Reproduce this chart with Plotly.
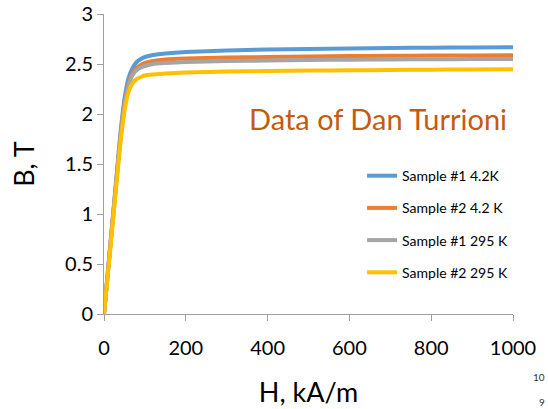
import plotly.graph_objects as go

# Magnetic field H (kA/m) and induction B (T) for each sample
H = [0, 10, 20, 30, 40, 50, 60, 70, 80, 90, 100, 120, 150, 200, 300, 400, 500, 600, 700, 800, 900, 1000]
b_s1_42k = [0, 0.45, 0.90, 1.35, 1.80, 2.15, 2.36, 2.46, 2.52, 2.55, 2.57, 2.59, 2.605, 2.62, 2.635, 2.645, 2.65, 2.655, 2.66, 2.663, 2.665, 2.667]
b_s2_42k = [0, 0.44, 0.88, 1.32, 1.76, 2.10, 2.30, 2.41, 2.46, 2.49, 2.51, 2.53, 2.545, 2.555, 2.565, 2.57, 2.575, 2.58, 2.582, 2.585, 2.586, 2.587]
b_s1_295k = [0, 0.44, 0.88, 1.32, 1.75, 2.08, 2.28, 2.39, 2.44, 2.465, 2.48, 2.50, 2.51, 2.52, 2.53, 2.535, 2.54, 2.543, 2.545, 2.548, 2.549, 2.55]
b_s2_295k = [0, 0.42, 0.85, 1.28, 1.70, 2.02, 2.22, 2.31, 2.35, 2.37, 2.385, 2.395, 2.405, 2.415, 2.425, 2.43, 2.434, 2.437, 2.44, 2.443, 2.445, 2.447]

names = ["Sample #1 4.2K", "Sample #2 4.2 K", "Sample #1 295 K", "Sample #2 295 K"]
colors = ["#5B9BD5", "#ED7D31", "#A5A5A5", "#FFC000"]
series = [b_s1_42k, b_s2_42k, b_s1_295k, b_s2_295k]

x_ticks = [0, 200, 400, 600, 800, 1000]
y_ticks = [0, 0.5, 1, 1.5, 2, 2.5, 3]
y_tick_text = ["0", "0.5", "1", "1.5", "2", "2.5", "3"]

FONT = "Lato, 'Open Sans', sans-serif"

fig = go.Figure()
for name, col, b in zip(names, colors, series):
    fig.add_trace(go.Scatter(
        x=H, y=b, mode="lines", name=name, legendgroup=name,
        line=dict(color=col, width=4, shape="spline", smoothing=0.6),
    ))

axis_common = dict(
    showgrid=False, zeroline=False, showline=True, linecolor="#A0A0A0", linewidth=1,
    ticks="outside", ticklen=6, tickcolor="#A0A0A0", tickwidth=1,
    tickfont=dict(family=FONT, size=20, color="#000000"),
)

fig.update_layout(
    width=548, height=409,
    margin=dict(l=104, r=35, t=14, b=95, autoexpand=False),
    paper_bgcolor="white", plot_bgcolor="white",
    font=dict(family=FONT, color="#000000"),
    xaxis=dict(range=[0, 1000], tickvals=x_ticks, ticklabelstandoff=10, **axis_common,
               title=dict(text="H, kA/m", font=dict(family=FONT, size=27), standoff=25)),
    yaxis=dict(range=[0, 3], tickvals=y_ticks, ticktext=y_tick_text, **axis_common,
               title=dict(text="B, T", font=dict(family=FONT, size=27), standoff=22)),
    legend=dict(
        x=0.631, y=0.513, xanchor="left", yanchor="top",
        font=dict(family=FONT, size=14, color="#000000"),
        tracegroupgap=11, bgcolor="rgba(0,0,0,0)", itemwidth=30,
    ),
    showlegend=True,
)

fig.add_annotation(
    text="Data of Dan Turrioni", xref="paper", yref="paper",
    x=(378 - 104) / 409, y=(314 - 118) / 300, xanchor="center", yanchor="middle",
    showarrow=False, font=dict(family=FONT, size=29, color="#C55A11"),
)
fig.add_annotation(text="10", xref="paper", yref="paper", x=(547 - 104) / 409, y=(314 - 377) / 300,
                   xanchor="right", yanchor="middle", showarrow=False,
                   font=dict(family=FONT, size=10, color="#333333"))
fig.add_annotation(text="9", xref="paper", yref="paper", x=(547 - 104) / 409, y=(314 - 402) / 300,
                   xanchor="right", yanchor="middle", showarrow=False,
                   font=dict(family=FONT, size=10, color="#333333"))

fig.write_html("out.html")
